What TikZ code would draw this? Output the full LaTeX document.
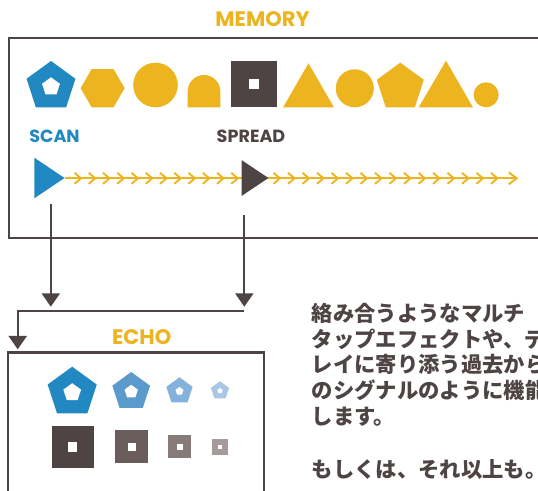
\documentclass[tikz,border=0pt]{standalone}
\usepackage{fontspec}
\usetikzlibrary{arrows.meta}
\newfontfamily\pop{Poppins}
\newfontfamily\jp{Noto Sans CJK JP}
\definecolor{myyellow}{HTML}{ECB41F}
\definecolor{myblue}{HTML}{2188C2}
\definecolor{mydark}{HTML}{4F4444}
\definecolor{eblueb}{HTML}{5A9BCB}
\definecolor{ebluec}{HTML}{84B2DA}
\definecolor{ebllued}{HTML}{A8C7E5}
\definecolor{edarkb}{HTML}{6A5D5B}
\definecolor{edarkc}{HTML}{877B7A}
\definecolor{edarkd}{HTML}{A59B9A}
\newcommand\mypent[5]{%
  \fill[#5,shift={(#1,#2)}] (270:#3) -- (198:#3) -- (126:#3) -- (54:#3) -- (342:#3) -- cycle;
  \fill[white,shift={(#1,#2)}] (270:#4) -- (198:#4) -- (126:#4) -- (54:#4) -- (342:#4) -- cycle;}
\newcommand\mysq[5]{%
  \fill[#5,shift={(#1,#2)}] (-#3/2,-#3/2) rectangle (#3/2,#3/2);
  \fill[white,shift={(#1,#2)}] (-#4/2,-#4/2) rectangle (#4/2,#4/2);}
\tikzset{
  boxframe/.style={draw=mydark, line width=1.7pt, inner sep=0pt, outer sep=0pt, anchor=north west},
  conn/.style={draw=mydark, line width=1.5pt, -{Triangle[width=13.5pt,length=10pt]}},
  chev/.style={draw=myyellow, line width=1.4pt, line join=miter},
  title/.style={font=\pop\bfseries\fontsize{15.75pt}{18pt}\selectfont, inner sep=0pt},
  label/.style={font=\pop\bfseries\fontsize{13.2pt}{15pt}\selectfont, inner sep=0pt},
  jtext/.style={font=\jp\bfseries\fontsize{16pt}{19pt}\selectfont, text=mydark, inner sep=0pt, anchor=base west},
}
\begin{document}
\begin{tikzpicture}[x=0.75pt,y=-0.75pt]
\useasboundingbox (0,0) rectangle (538,490);
\clip (0,0) rectangle (538,490);
\fill[white] (0,0) rectangle (538,490);

% titles
\node[title, text=myyellow] (memtitle) at (262.5,19) {MEMORY};
\node[boxframe, minimum width=443pt, minimum height=150pt] (memory) at (9.3,37.7) {};

% shapes row
\mypent{51}{86.7}{25.7}{9.4}{myblue}
\fill[myyellow,shift={(102.6,88.2)}] (0:22) -- (60:22) -- (120:22) -- (180:22) -- (240:22) -- (300:22) -- cycle;
\fill[myyellow] (155.5,85) circle[radius=22.3];
\fill[myyellow] (187.7,107.3) -- (187.7,91.3) arc[start angle=180,end angle=360,radius=16.3] -- (220.3,107.3) -- cycle;
\mysq{254.1}{84}{46.5}{10.3}{mydark}
\fill[myyellow] (283.1,107.3) -- (333.9,107.3) -- (308.5,63.3) -- cycle;
\fill[myyellow] (354.8,88.3) circle[radius=19];
\fill[myyellow,shift={(400.3,87.4)}] (270:24.7) -- (198:24.7) -- (126:24.7) -- (54:24.7) -- (342:24.7) -- cycle;
\fill[myyellow] (418.7,107.3) -- (472.9,107.3) -- (446,60.7) -- cycle;
\fill[myyellow] (486.1,94.8) circle[radius=12.5];

% scan / spread
\node[label, text=myblue] (scanlbl) at (54.5,136.7) {SCAN};
\node[label, text=mydark] (spreadlbl) at (251,136.7) {SPREAD};
\draw[chev] (64.5,178.3) -- (516.7,178.3);
\foreach \k in {0,...,11} {\draw[chev] ({81+14.25*\k},178.3) +(-6.5,-5.5) -- +(0,0) -- +(-6.5,5.5);}
\foreach \k in {0,...,15} {\draw[chev] ({280+14.5*\k},178.3) +(-6.5,-5.5) -- +(0,0) -- +(-6.5,5.5);}
\draw[chev] (516.7,178.3) +(-8,-6) -- +(0,0) -- +(-8,6);
\fill[myblue] (34.3,157.7) -- (34.3,198.3) -- (64.5,178) -- cycle;
\fill[mydark] (241.5,160) -- (241.5,196) -- (268.4,178) -- cycle;

% connectors
\coordinate (scanfrom) at (50.8,204);
\coordinate (scanto) at (50.8,306.7);
\coordinate (spreadfrom) at (244.3,215);
\coordinate (spreadto) at (244.3,306.7);
\coordinate (joinr) at (244.3,310.7);
\coordinate (joinl) at (17.7,310.7);
\coordinate (echoin) at (17.7,349.3);
\draw[conn] (scanfrom) -- (scanto);
\draw[conn] (spreadfrom) -- (spreadto);
\draw[conn] (joinr) -- (joinl) -- (echoin);

% echo
\node[title, text=myyellow] (echotitle) at (141.7,336.7) {ECHO};
\node[boxframe, minimum width=191.8pt, minimum height=130pt] (echo) at (8.3,352.5) {};
\mypent{72.2}{392.5}{25.8}{9.3}{myblue}
\mypent{131.2}{391.8}{19.8}{7}{eblueb}
\mypent{179.5}{391.1}{13.8}{4.2}{ebluec}
\mypent{220}{390.8}{9.5}{2.8}{ebllued}
\mysq{72.7}{447}{42}{9.3}{mydark}
\mysq{131.5}{446.8}{33}{8}{edarkb}
\mysq{179.8}{446.8}{23}{6.3}{edarkc}
\mysq{220.3}{447}{16}{4.3}{edarkd}

% text
\node[jtext] (la) at (311.5,321.2) {絡み合うようなマルチ};
\node[jtext] (lb) at (311.5,347) {タップエフェクトや、ディ};
\node[jtext] (lc) at (311.5,372.8) {レイに寄り添う過去から};
\node[jtext] (ld) at (311.5,398.6) {のシグナルのように機能};
\node[jtext] (le) at (311.5,424.4) {します。};
\node[jtext] (lf) at (311.5,477) {もしくは、それ以上も。};
\end{tikzpicture}
\end{document}
